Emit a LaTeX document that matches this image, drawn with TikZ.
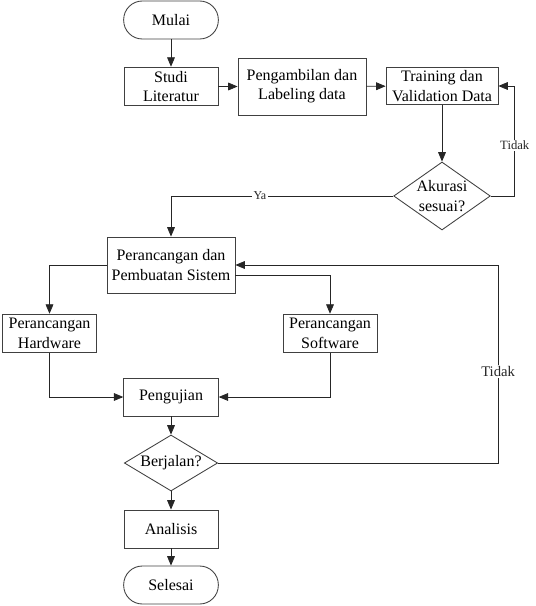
\documentclass[tikz,border=0pt,12pt]{standalone}
\usepackage{fontspec}
\setmainfont{Liberation Serif}
\usepackage{tikz}
\usetikzlibrary{shapes,arrows,positioning,calc}

\begin{document}
\begin{tikzpicture}[
    x=0.75pt, y=-0.75pt,
    block/.style={rectangle, draw=black!75, line width=0.65pt, fill=white, align=center, inner sep=1pt},
    term/.style={rectangle, draw=black!75, line width=0.65pt, rounded corners=14pt, align=center, minimum width=71pt, minimum height=28.5pt},
    decision/.style={diamond, draw=black!75, line width=0.65pt, align=center, inner sep=0pt, aspect=1.5},
    arrow/.style={->, >=triangle 45, black!85, line width=0.6pt},
    lbl/.style={fill=white, inner sep=1pt}
]
    \useasboundingbox (0,0) rectangle (535,606);
    % Nodes
    \node[term] (mulai) at (171,20) {Mulai};
    \node[block, minimum width=70.5pt, minimum height=29pt] (studi) at (171,86.5) {Studi\\Literatur};
    \node[block, minimum width=96pt, minimum height=42.75pt] (ambil) at (302,86.5) {Pengambilan dan\\Labeling data};
    \node[block, minimum width=84pt, minimum height=28pt] (train) at (442,86) {Training dan\\Validation Data};
    \node[decision, minimum width=70.5pt, minimum height=51pt] (akurasi) at (442,196) {Akurasi\\sesuai?};
    \node[block, minimum width=96pt, minimum height=42pt] (rancang) at (171,265) {Perancangan dan\\Pembuatan Sistem};
    \node[block, minimum width=71pt, minimum height=29pt] (hardware) at (49.5,333.5) {Perancangan\\Hardware};
    \node[block, minimum width=70.5pt, minimum height=29pt] (software) at (330,333.5) {Perancangan\\Software};
    \node[block, minimum width=71pt, minimum height=28.5pt] (uji) at (171,397) {Pengujian};
    \node[decision, minimum width=70pt, minimum height=42pt] (jalan) at (171,463) {Berjalan?};
    \node[block, minimum width=70.5pt, minimum height=28.5pt] (analisis) at (171,529) {Analisis};
    \node[term] (selesai) at (171,585) {Selesai};

    % Arrows
    \draw[arrow] (mulai) -- (studi);
    \draw[arrow] (studi) -- (ambil);
    \draw[arrow] (ambil) -- (train);
    \draw[arrow] (train) -- (akurasi);
    \draw[arrow] (akurasi.east) -- ++(24,0) |- (train.east)
        node[lbl, pos=0.23, font=\fontsize{9.5}{11}\selectfont] {Tidak};
    \draw[arrow] (akurasi.west) -| (rancang.north)
        node[lbl, pos=0.3, font=\fontsize{9}{10}\selectfont] {Ya};
    \draw[arrow] (rancang.west) -| (hardware.north);
    \draw[arrow] ([yshift=-8pt]rancang.east) -| (software.north);
    \draw[arrow] (hardware.south) |- (uji.west);
    \draw[arrow] (software.south) |- (uji.east);
    \draw[arrow] (uji) -- (jalan);
    \draw[arrow] (jalan.east) -- ++(280,0) |- (rancang.east)
        node[lbl, pos=0.23, font=\fontsize{11}{13}\selectfont] {Tidak};
    \draw[arrow] (jalan) -- (analisis);
    \draw[arrow] (analisis) -- (selesai);
\end{tikzpicture}
\end{document}
